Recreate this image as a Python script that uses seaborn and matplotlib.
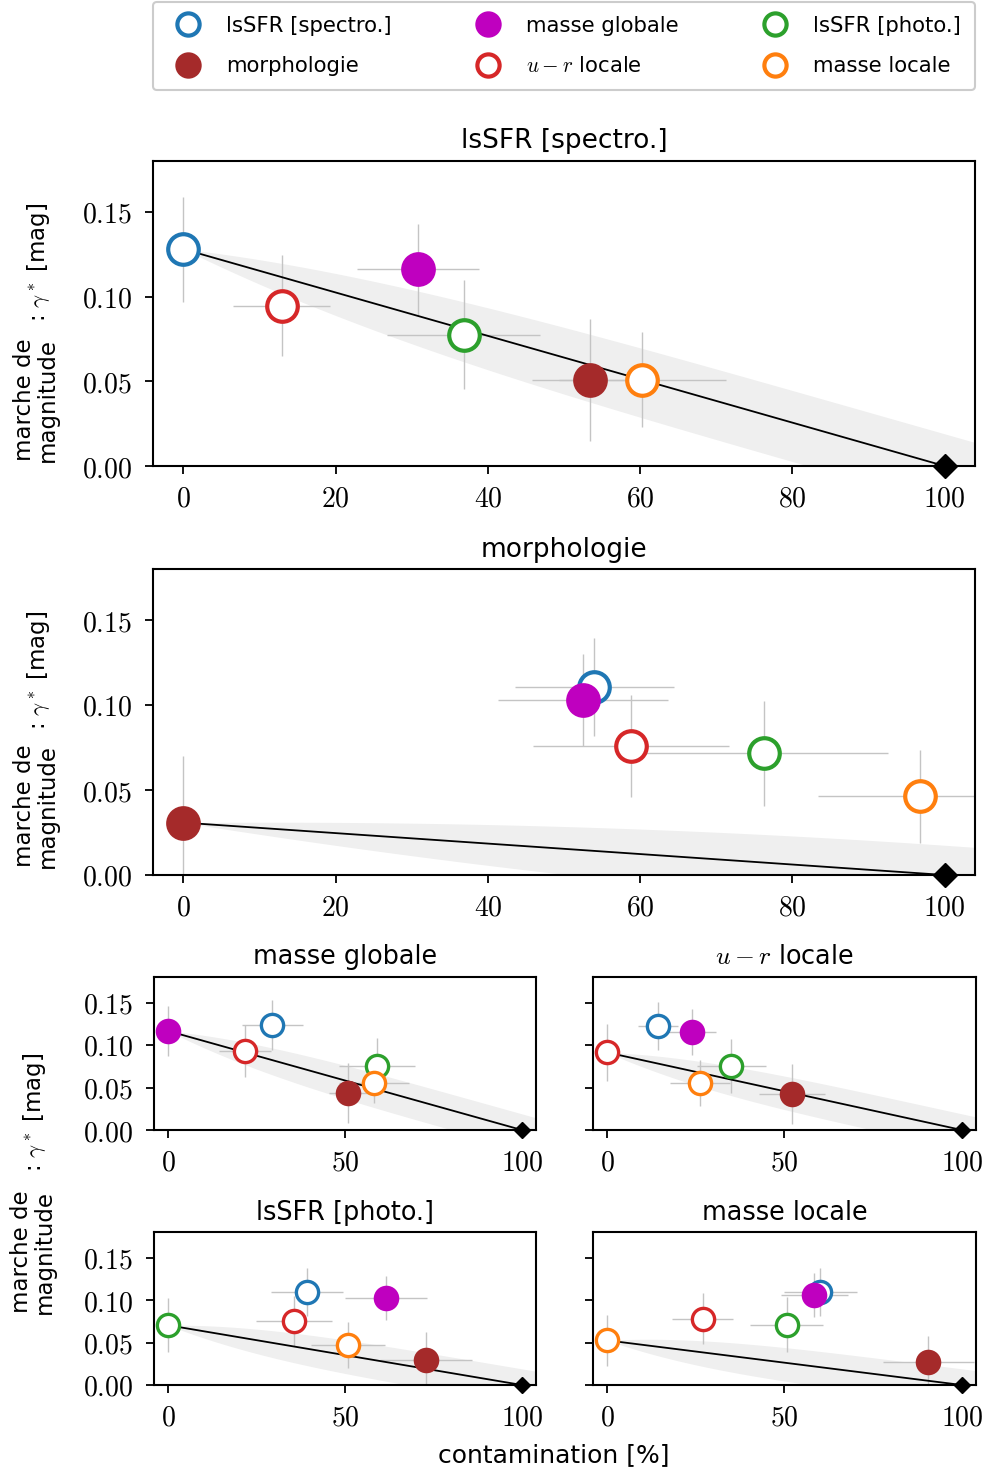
import numpy as np
import pandas as pd
import matplotlib
matplotlib.use("Agg")
import matplotlib.pyplot as plt
from matplotlib.lines import Line2D
import seaborn as sns

# ---------------- data ----------------
categories = ["lsSFR [spectro.]", "morphologie", "masse globale",
              "$u-r$ locale", "lsSFR [photo.]", "masse locale"]
colors = ["#1f77b4", "#a52a2a", "#bf00bf", "#d62728", "#2ca02c", "#ff7f0e"]
filled = [False, True, True, False, False, False]
panel_titles = categories  # one panel per reference selection

# per panel: values in category order
x_spectro = [0, 53.4, 30.8, 12.9, 36.8, 60.3]
y_spectro = [0.128, 0.051, 0.116, 0.0947, 0.0775, 0.051]
xe_spectro = [0, 7.6, 8.0, 6.4, 10.0, 11.0]
ye_spectro = [0.031, 0.036, 0.027, 0.030, 0.032, 0.028]

x_morph = [54.0, 0, 52.5, 58.8, 76.3, 96.8]
y_morph = [0.1107, 0.0308, 0.103, 0.0757, 0.0716, 0.0462]
xe_morph = [10.4, 0, 11.2, 12.9, 16.3, 13.4]
ye_morph = [0.029, 0.039, 0.027, 0.030, 0.031, 0.0275]

x_mglob = [29.5, 50.9, 0, 21.7, 59.0, 58.2]
y_mglob = [0.1236, 0.0438, 0.1165, 0.0928, 0.0758, 0.0557]
xe_mglob = [8.6, 5.5, 0, 7.3, 10.8, 10.0]
ye_mglob = [0.029, 0.0355, 0.029, 0.031, 0.032, 0.024]

x_ur = [14.3, 52.1, 23.8, 0, 35.0, 26.1]
y_ur = [0.1224, 0.0426, 0.115, 0.0912, 0.0754, 0.0553]
xe_ur = [5.7, 9.3, 6.8, 0, 9.8, 8.5]
ye_ur = [0.0286, 0.035, 0.027, 0.034, 0.0316, 0.0276]

x_photo = [39.3, 72.9, 61.6, 35.5, 0, 50.9]
y_photo = [0.1097, 0.0296, 0.1026, 0.075, 0.0703, 0.0466]
xe_photo = [10.1, 13.0, 11.5, 10.8, 0, 10.4]
ye_photo = [0.028, 0.033, 0.026, 0.0296, 0.0316, 0.027]

x_mloc = [60.1, 90.5, 58.4, 26.9, 50.6, 0]
y_mloc = [0.1097, 0.0268, 0.1058, 0.0778, 0.0711, 0.0525]
xe_mloc = [10.3, 12.8, 9.5, 8.5, 10.2, 0]
ye_mloc = [0.028, 0.031, 0.026, 0.030, 0.032, 0.030]

# band half-widths (upper, lower) and growth exponent per panel
band_up = [0.019, 0.0175, 0.019, 0.019, 0.019, 0.019]
band_lo = [0.023, 0.020, 0.023, 0.023, 0.023, 0.023]
band_p = [4, 2, 4, 4, 4, 4]

panels = [
    (x_spectro, y_spectro, xe_spectro, ye_spectro),
    (x_morph, y_morph, xe_morph, ye_morph),
    (x_mglob, y_mglob, xe_mglob, ye_mglob),
    (x_ur, y_ur, xe_ur, ye_ur),
    (x_photo, y_photo, xe_photo, ye_photo),
    (x_mloc, y_mloc, xe_mloc, ye_mloc),
]

big_xticks = [0, 20, 40, 60, 80, 100]
small_xticks = [0, 50, 100]
yticks = [0.00, 0.05, 0.10, 0.15]

# ---------------- style ----------------
sns.set_theme(style="ticks")
plt.rcParams["font.family"] = ["DejaVu Sans"]
plt.rcParams["mathtext.fontset"] = "cm"
plt.rcParams["axes.linewidth"] = 1.5
plt.rcParams["axes.edgecolor"] = "black"
plt.rcParams["text.color"] = "black"
plt.rcParams["axes.labelcolor"] = "black"
plt.rcParams["axes.titlecolor"] = "black"
plt.rcParams["xtick.color"] = "black"
plt.rcParams["ytick.color"] = "black"

W, H = 987, 1474
fig = plt.figure(figsize=(W / 100, H / 100), dpi=100)


def add_ax(l, t, r, b):
    return fig.add_axes([l / W, 1 - b / H, (r - l) / W, (b - t) / H])


boxes = [(153, 161, 975, 466), (153, 569, 975, 875),
         (154, 977, 536, 1130), (593, 977, 976, 1130),
         (154, 1232, 536, 1385), (593, 1232, 976, 1385)]

draw_order = [2, 1, 5, 3, 4, 0]

for i, (box, data) in enumerate(zip(boxes, panels)):
    ax = add_ax(*box)
    big = i < 2
    ms = 22 if big else 16
    mew = 3.0 if big else 2.4
    xs, ys, xes, yes = data
    ref = i
    y0 = ys[ref]

    # band
    xx = np.linspace(0, 104, 300)
    f = xx / 100.0
    g = 1 - (1 - np.clip(f, 0, 1)) ** band_p[i]
    line = y0 * (1 - f)
    ax.fill_between(xx, line - band_lo[i] * g, line + band_up[i] * g,
                    color="#efefef", lw=0, zorder=0)
    # model line
    sns.lineplot(x=[0, 100], y=[y0, 0], color="black", lw=1.3, ax=ax,
                 zorder=2, legend=False)
    ax.plot([100], [0], marker="D", color="black", ms=12 if big else 8.5,
            clip_on=False, zorder=6, ls="")

    # error bars
    ax.errorbar(xs, ys, xerr=xes, yerr=yes, fmt="none", ecolor="#c4c4c4",
                elinewidth=1.0, capsize=0, zorder=1)
    # points
    for k in draw_order:
        df = pd.DataFrame({"x": [xs[k]], "y": [ys[k]]})
        sns.scatterplot(data=df, x="x", y="y", ax=ax, s=ms ** 2,
                        facecolor=colors[k] if filled[k] else "white",
                        edgecolor=colors[k], linewidth=mew, zorder=4 + 0.01 * k,
                        legend=False)

    ax.set_xlim(-4, 104)
    ax.set_ylim(0, 0.18)
    xt = big_xticks if big else small_xticks
    ax.set_xticks(xt)
    ax.set_xticklabels([f"${t}$" for t in xt])
    ax.set_yticks(yticks)
    if i in (0, 1, 2, 4):
        ax.set_yticklabels([f"${t:.2f}$" for t in yticks])
    else:
        ax.set_yticklabels([])
    ax.tick_params(axis="both", length=6, width=1.3, labelsize=20,
                   direction="out", color="black", labelcolor="black")
    ax.tick_params(axis="y", pad=9)
    ax.tick_params(axis="x", pad=7)
    ax.set_xlabel("")
    ax.set_ylabel("")
    for s in ax.spines.values():
        s.set_linewidth(1.5)
        s.set_color("black")
    ax.set_title(panel_titles[i], fontsize=19 if big else 18.4, pad=9,
                 color="black")

# y labels
lab_fs = 16.5
for (cy_main, cy_gamma, xm, xg) in [(400, 262, 36, 38), (806, 670, 36, 38),
                                     (1252, 1112, 33, 35)]:
    fig.text(xm / W, 1 - cy_main / H, "marche de\nmagnitude", rotation=90,
             ha="center", va="center", fontsize=lab_fs, linespacing=1.0,
             multialignment="center", color="black")
    fig.text(xg / W, 1 - cy_gamma / H, r": $\gamma^*$ [mag]", rotation=90,
             ha="center", va="center", fontsize=lab_fs, color="black")

# x label
fig.text(554 / W, 1 - 1455 / H, "contamination [%]", ha="center",
         va="center", fontsize=18, color="black")

# legend
handles = []
for k in range(6):
    handles.append(Line2D([], [], ls="", marker="o", ms=16, mew=3.0,
                          mec=colors[k],
                          mfc=colors[k] if filled[k] else "white"))
leg = fig.legend(handles, categories, ncol=3, loc="upper left",
                 bbox_to_anchor=(153 / W, 1 - 2 / H, (975 - 153) / W, 0.0),
                 mode="expand", fontsize=15.3, frameon=True, fancybox=True,
                 edgecolor="#cccccc", framealpha=1, borderaxespad=0,
                 handletextpad=0.8, columnspacing=1.0, labelspacing=0.95,
                 handlelength=2.0, borderpad=0.65)
leg.get_frame().set_linewidth(1.5)
for t in leg.get_texts():
    t.set_color("black")

fig.savefig("out.png", dpi=100)
